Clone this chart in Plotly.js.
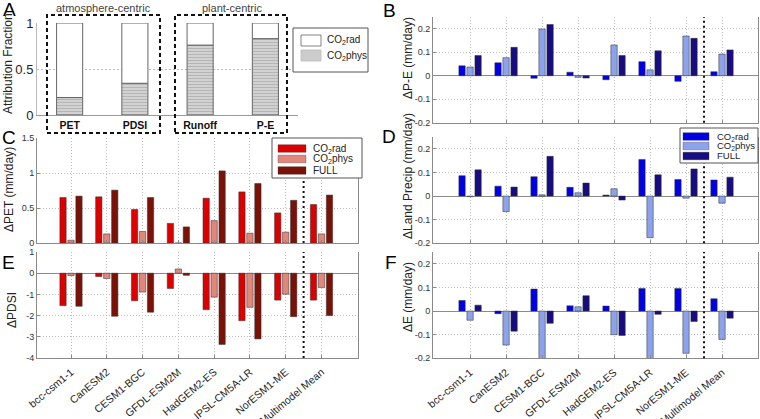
<!DOCTYPE html>
<html><head><meta charset="utf-8">
<script src="https://cdn.plot.ly/plotly-3.0.1.min.js"></script>
<style>html,body{margin:0;padding:0;background:#fff}#chart{width:760px;height:419px}</style>
</head><body><div id="chart"></div><script>
// ---------------- data ----------------
const models = ["bcc-csm1-1","CanESM2","CESM1-BGC","GFDL-ESM2M","HadGEM2-ES","IPSL-CM5A-LR","NorESM1-ME","Multimodel Mean"];
const seriesNames = ["CO<sub>2</sub>rad","CO<sub>2</sub>phys","FULL"];
const attribVars = ["PET","PDSI","Runoff","P-E"];
const attribPhys = [0.19,0.345,0.76,0.83];
const attribRad  = [0.81,0.655,0.24,0.17];

const petRad  = [0.65,0.66,0.48,0.28,0.64,0.73,0.43,0.55];
const petPhys = [0.04,0.13,0.165,0.0,0.32,0.14,0.155,0.13];
const petFull = [0.67,0.755,0.65,0.23,1.03,0.85,0.61,0.685];

const pdsiRad  = [-1.53,-0.16,-1.30,-0.72,-1.72,-2.24,-1.27,-1.27];
const pdsiPhys = [-0.11,-0.25,-0.89,0.20,-1.13,-1.61,-0.99,-0.68];
const pdsiFull = [-1.56,-2.03,-1.84,-0.10,-3.36,-3.10,-2.05,-2.00];

const peRad  = [0.042,0.055,-0.011,0.015,-0.017,0.060,-0.024,0.017];
const pePhys = [0.037,0.077,0.199,-0.007,0.131,0.025,0.169,0.092];
const peFull = [0.086,0.121,0.218,-0.010,0.086,0.106,0.159,0.110];

const prRad  = [0.086,0.042,0.082,0.037,0.004,0.155,0.070,0.068];
const prPhys = [-0.003,-0.066,0.005,0.014,0.031,-0.176,-0.009,-0.030];
const prFull = [0.111,0.038,0.168,0.055,-0.017,0.090,0.115,0.080];

const eRad  = [0.045,-0.011,0.093,0.022,0.021,0.096,0.096,0.052];
const ePhys = [-0.039,-0.144,-0.205,0.018,-0.100,-0.210,-0.179,-0.120];
const eFull = [0.025,-0.085,-0.052,0.065,-0.103,-0.014,-0.044,-0.030];

const tickA = [0,0.5,1];          const tickAText = ["0","0.5","1"];
const tickC = [0,0.5,1,1.5];      const tickCText = ["0","0.5","1","1.5"];
const tickE = [-4,-3,-2,-1,0,1];  const tickEText = ["-4","-3","-2","-1","0","1"];
const tickB = [-0.2,-0.1,0,0.1,0.2]; const tickBText = ["-0.2","-0.1","0","0.1","0.2"];

// ---------------- styling ----------------
const W = 760, H = 419;
const FONT = "Liberation Sans, Arial, sans-serif";
const px = p => p / W;
const py = p => 1 - p / H;
const domX = (a, b) => [a / W, b / W];
const domY = (top, bot) => [1 - bot / H, 1 - top / H];

const redCols  = ["#dd0000", "#e0867a", "#7a1208"];
const blueCols = ["#0000e6", "#8ca3ec", "#170c80"];
const offs = [-0.311, -0.088, 0.135];
const bw = 0.176;
const xs = models.map((m, i) => i + 1);

const traces = [];
function group(xa, ya, vals, cols) {
  vals.forEach((v, k) => {
    traces.push({
      type: "bar", x: xs, y: v, name: seriesNames[k], xaxis: xa, yaxis: ya,
      offset: offs[k], width: bw, showlegend: false,
      marker: {color: cols[k], line: {color: "rgba(50,50,50,0.65)", width: 0.8}},
      hoverinfo: "x+y"
    });
  });
}
// Panel A
traces.push({type:"bar", x: attribVars, y: attribPhys, name: seriesNames[1], xaxis:"x", yaxis:"y",
  offset:-0.2, width:0.4, showlegend:false,
  marker:{color:"#cccccc", line:{color:"#666", width:1},
    pattern:{shape:"-", fgcolor:"#b5b5b5", bgcolor:"#d2d2d2", size:3, solidity:0.35}}});
traces.push({type:"bar", x: attribVars, y: attribRad, base: attribPhys, name: seriesNames[0], xaxis:"x", yaxis:"y",
  offset:-0.2, width:0.4, showlegend:false,
  marker:{color:"#ffffff", line:{color:"#666", width:1}}});

group("x2","y2",[petRad,petPhys,petFull],redCols);
group("x3","y3",[pdsiRad,pdsiPhys,pdsiFull],redCols);
group("x4","y4",[peRad,pePhys,peFull],blueCols);
group("x5","y5",[prRad,prPhys,prFull],blueCols);
group("x6","y6",[eRad,ePhys,eFull],blueCols);

const DOT = "1px,2px";
const baseX = {showgrid:true, gridcolor:"#bdbdbd", griddash:DOT, gridwidth:1,
  showline:true, linecolor:"#8a8a8a", linewidth:1, ticks:"inside", ticklen:3, tickcolor:"#8a8a8a",
  zeroline:false, fixedrange:true, tickvals: xs, ticktext: models, showticklabels:false,
  tickfont:{family:FONT, size:10.5, color:"#222"}};
const baseY = {showgrid:true, gridcolor:"#bdbdbd", griddash:DOT, gridwidth:1,
  showline:true, mirror:true, linecolor:"#8a8a8a", linewidth:1, ticks:"inside", ticklen:3, tickcolor:"#8a8a8a",
  zeroline:true, zerolinecolor:"#8a8a8a", zerolinewidth:1, fixedrange:true,
  tickfont:{family:FONT, size:9, color:"#333"}};

const leftX = domX(37, 358), rightX = domX(433, 758);
const layout = {
  width: W, height: H, margin:{l:0,r:0,t:0,b:0}, paper_bgcolor:"#fff", plot_bgcolor:"rgba(0,0,0,0)",
  barmode:"overlay", showlegend:false, font:{family:FONT, color:"#222"},
  xaxis:{domain:domX(37,298), anchor:"y", type:"category", range:[-0.5,3.5], showgrid:false, showline:true,
    linecolor:"#999", ticks:"", fixedrange:true, ticklabelstandoff:0,
    tickfont:{family:FONT, size:10.5, color:"#111", weight:700}},
  yaxis:{domain:domY(23,115), anchor:"x", range:[0,1], tickvals:tickA, ticktext:tickAText,
    showgrid:true, gridcolor:"#bdbdbd", griddash:"2px,2px", showline:true, linecolor:"#bbb", ticks:"",
    zeroline:false, fixedrange:true, tickfont:{family:FONT, size:13, color:"#222"}},
  xaxis2:Object.assign({}, baseX, {domain:leftX, anchor:"y2", range:[0.05,9.02]}),
  yaxis2:Object.assign({}, baseY, {domain:domY(138,243), anchor:"x2", range:[0,1.5], tickvals:tickC, ticktext:tickCText}),
  xaxis3:Object.assign({}, baseX, {domain:leftX, anchor:"y3", range:[0.05,9.02], showticklabels:true, tickangle:-40, ticklabelstandoff:3}),
  yaxis3:Object.assign({}, baseY, {domain:domY(252,358), anchor:"x3", range:[-4,1], tickvals:tickE, ticktext:tickEText}),
  xaxis4:Object.assign({}, baseX, {domain:rightX, anchor:"y4", range:[-0.03,9]}),
  yaxis4:Object.assign({}, baseY, {domain:domY(17,122.7), anchor:"x4", range:[-0.2,0.25], tickvals:tickB, ticktext:tickBText}),
  xaxis5:Object.assign({}, baseX, {domain:rightX, anchor:"y5", range:[-0.03,9]}),
  yaxis5:Object.assign({}, baseY, {domain:domY(137,243.3), anchor:"x5", range:[-0.2,0.25], tickvals:tickB, ticktext:tickBText}),
  xaxis6:Object.assign({}, baseX, {domain:rightX, anchor:"y6", range:[-0.03,9], showticklabels:true, tickangle:-40, ticklabelstandoff:3}),
  yaxis6:Object.assign({}, baseY, {domain:domY(252,358.3), anchor:"x6", range:[-0.2,0.25], tickvals:tickB, ticktext:tickBText}),
  shapes: [], annotations: []
};

// dotted separators before multimodel mean
["2","3","4","5","6"].forEach(n => {
  layout.shapes.push({type:"line", xref:"x"+n, yref:"y"+n+" domain", x0:7.5, x1:7.5, y0:0, y1:1,
    line:{color:"#111", width:2, dash:"2px,3px"}});
});
function rect(x0, y0, x1, y1, fill, lc, lw, dash) {
  layout.shapes.push({type:"rect", xref:"paper", yref:"paper", x0:px(x0), x1:px(x1), y0:py(y1), y1:py(y0),
    fillcolor:fill, line:{color:lc, width:lw, dash:dash || "solid"}, layer:"above"});
}
function txt(x, y, t, size, opts) {
  layout.annotations.push(Object.assign({xref:"paper", yref:"paper", x:px(x), y:py(y), text:t, showarrow:false,
    xanchor:"left", yanchor:"middle", font:{family:FONT, size:size, color:"#222"}}, opts || {}));
}
// Panel A dashed groupings
rect(47, 15, 160, 133, "rgba(0,0,0,0)", "#111", 2, "4px,3px");
rect(175, 15, 287, 133, "rgba(0,0,0,0)", "#111", 2, "4px,3px");
txt(103, 8, "atmosphere-centric", 11, {xanchor:"center", font:{family:FONT, size:11, color:"#444"}});
txt(232, 8, "plant-centric", 11, {xanchor:"center", font:{family:FONT, size:11, color:"#444"}});

// Legend A
rect(293, 28, 368, 72, "#fff", "#555", 1);
rect(301, 35, 321, 46, "#fff", "#666", 0.8);
rect(301, 50, 321, 61, "#cccccc", "#bbb", 0.8);
txt(325, 40.5, seriesNames[0], 10);
txt(325, 55.5, seriesNames[1], 10);

// Legend C
rect(272, 138, 362, 178, "#fff", "#555", 1);
[148.5, 159, 170.5].forEach((yy, k) => {
  rect(278, yy - 3.8, 306, yy + 3.8, redCols[k], "rgba(50,50,50,0.5)", 0.6);
  txt(311, yy, seriesNames[k], 10);
});
// Legend D
rect(680, 128, 758, 163, "#fff", "#555", 1);
[136.5, 146, 156].forEach((yy, k) => {
  rect(683, yy - 3.8, 709, yy + 3.8, blueCols[k], "rgba(50,50,50,0.5)", 0.6);
  txt(715, yy, seriesNames[k], 9.5);
});

// panel letters
[["A",1,9],["B",381,11],["C",0,137],["D",380,136],["E",0,262],["F",383,262]].forEach(a => {
  txt(a[1], a[2], a[0], 19, {font:{family:FONT, size:19, color:"#000"}});
});
// y titles
[["Attribution Fraction",8,64,12],["ΔPET (mm/day)",9,190,12],["ΔPDSI",12,310,12],
 ["ΔP-E (mm/day)",408,58,12],["ΔLand Precip (mm/day)",408,176,12],["ΔE (mm/day)",408,297,12]].forEach(a => {
  txt(a[1], a[2], a[0], a[3], {xanchor:"center", textangle:-90, font:{family:FONT, size:a[3], color:"#222"}});
});

Plotly.newPlot("chart", traces, layout, {staticPlot:true, displayModeBar:false});
</script></body></html>
